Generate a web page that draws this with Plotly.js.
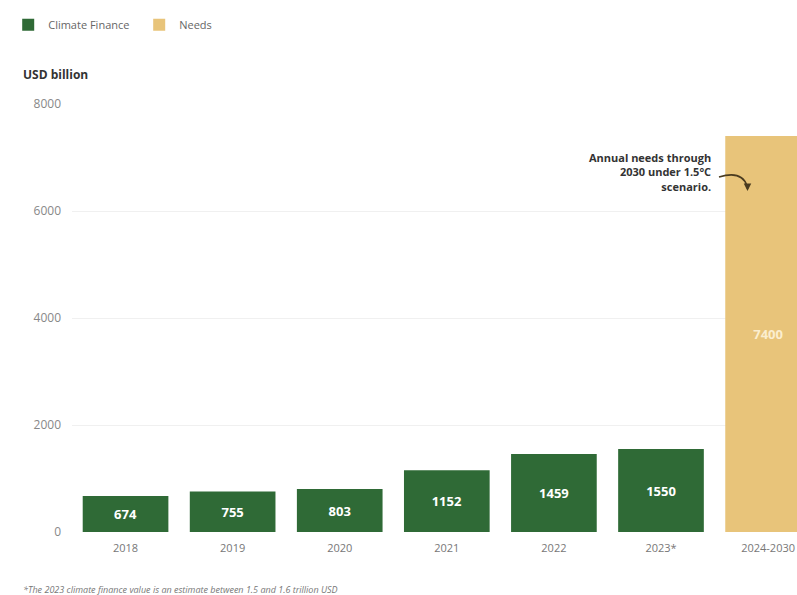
<!DOCTYPE html>
<html>
<head>
<meta charset="utf-8">
<script src="https://cdn.plot.ly/plotly-3.0.1.min.js"></script>
<style>
html,body{margin:0;padding:0;background:#fff;}
#chart{width:797px;height:595px;}
</style>
</head>
<body>
<div id="chart"></div>
<script>
var financeYears = ["2018", "2019", "2020", "2021", "2022", "2023*"];
var financeValues = [674, 755, 803, 1152, 1459, 1550];
var needsCategory = ["2024-2030"];
var needsValues = [7400];
var allCategories = financeYears.concat(needsCategory);
var yTicks = [0, 2000, 4000, 6000, 8000];

var green = "#2f6a36";
var gold = "#e8c47a";

var traces = [
  {
    type: "bar",
    name: "Climate Finance",
    x: financeYears,
    y: financeValues,
    marker: {color: green},
    text: financeValues.map(String),
    textposition: "inside",
    insidetextanchor: "middle",
    textfont: {family: "Open Sans, sans-serif", size: 13, color: "#ffffff", weight: 700},
    hoverinfo: "x+y"
  },
  {
    type: "bar",
    name: "Needs",
    x: needsCategory,
    y: needsValues,
    marker: {color: gold},
    text: needsValues.map(String),
    textposition: "inside",
    insidetextanchor: "middle",
    textfont: {family: "Open Sans, sans-serif", size: 13, color: "#fbeecf", weight: 700},
    hoverinfo: "x+y"
  }
];

// plot area in pixels: left 72, width 725, top 104, height 428
function px(x) { return (x - 72) / 725; }
function py(y) { return (532 - y) / 428; }

var layout = {
  width: 797,
  height: 595,
  margin: {l: 72, r: 0, t: 104, b: 63},
  paper_bgcolor: "#ffffff",
  plot_bgcolor: "#ffffff",
  barmode: "overlay",
  bargap: 0.2,
  font: {family: "Open Sans, sans-serif", color: "#777777", size: 11},
  showlegend: true,
  legend: {
    orientation: "h",
    x: -0.088, xanchor: "left",
    y: 1.185, yanchor: "middle",
    font: {size: 11, color: "#666666"},
    itemwidth: 30,
    entrywidthmode: "pixels",
    entrywidth: 86,
    tracegroupgap: 0,
    traceorder: "normal"
  },
  xaxis: {
    type: "category",
    categoryorder: "array",
    categoryarray: allCategories,
    range: [-0.5, 6.27],
    showgrid: false,
    zeroline: false,
    showline: false,
    ticks: "",
    ticklabelstandoff: 8,
    tickfont: {size: 11, color: "#777777"}
  },
  yaxis: {
    range: [0, 8000],
    tickvals: yTicks,
    ticktext: yTicks.map(String),
    showgrid: true,
    gridcolor: "#f0f0f0",
    gridwidth: 1,
    zeroline: false,
    showline: false,
    ticks: "",
    ticklabelstandoff: 10,
    tickfont: {size: 12, color: "#888888"}
  },
  shapes: [
    {
      type: "path",
      xref: "paper", yref: "paper",
      path: "M " + px(719) + " " + py(177) +
            " Q " + px(742) + " " + py(170) + " " + px(747) + " " + py(186),
      line: {color: "#4a3b1f", width: 1.5}
    }
  ],
  annotations: [
    {
      xref: "paper", yref: "paper",
      x: -0.07, y: 1.07,
      xanchor: "left", yanchor: "middle",
      text: "<b>USD billion</b>",
      showarrow: false,
      font: {size: 12, color: "#333333"}
    },
    {
      xref: "paper", yref: "paper",
      x: 0.884, y: 0.84,
      xanchor: "right", yanchor: "middle",
      align: "right",
      text: "<b>Annual needs through<br>2030 under 1.5°C<br>scenario.</b>",
      showarrow: false,
      font: {size: 11, color: "#333333"}
    },
    {
      xref: "paper", yref: "paper",
      x: px(747.5), y: py(191),
      text: "",
      showarrow: true,
      arrowhead: 2,
      arrowsize: 1,
      arrowwidth: 1.5,
      arrowcolor: "#4a3b1f",
      ax: 0, ay: -6
    },
    {
      xref: "paper", yref: "paper",
      x: -0.07, y: -0.135,
      xanchor: "left", yanchor: "middle",
      text: "<i>*The 2023 climate finance value is an estimate between 1.5 and 1.6 trillion USD</i>",
      showarrow: false,
      font: {size: 9, color: "#777777"}
    }
  ]
};

Plotly.newPlot("chart", traces, layout, {displayModeBar: false, staticPlot: true});
</script>
</body>
</html>
